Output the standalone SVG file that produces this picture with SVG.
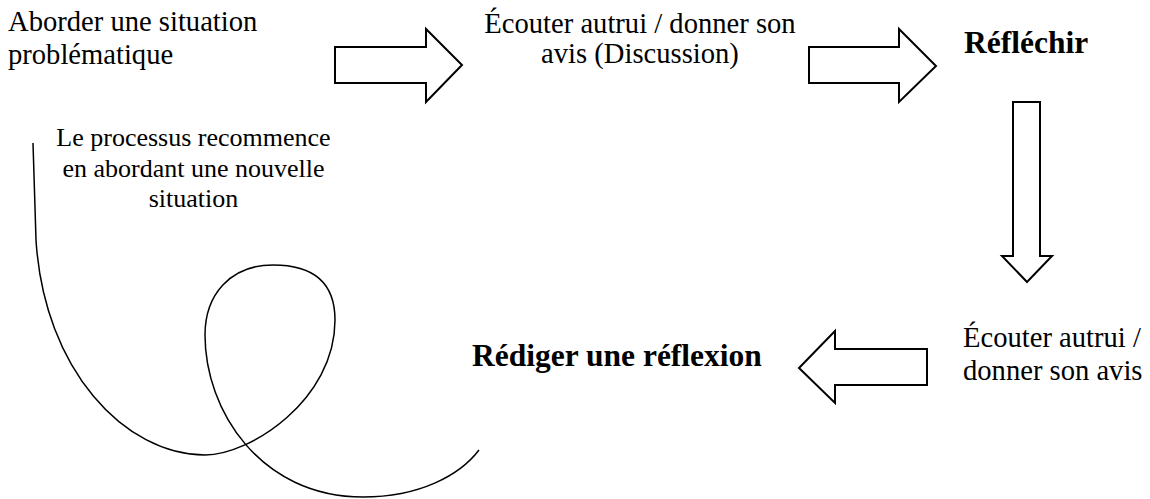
<svg xmlns="http://www.w3.org/2000/svg" width="1150" height="499" viewBox="0 0 1150 499">
<style>
.t{font-family:"Liberation Serif","Times New Roman",serif;font-size:28.6px;fill:#000}
.s{font-family:"Liberation Serif","Times New Roman",serif;font-size:26px;fill:#000}
.b{font-family:"Liberation Serif","Times New Roman",serif;font-size:31.5px;font-weight:bold;fill:#000}
.arr{fill:#fff;stroke:#000;stroke-width:2;stroke-linejoin:miter}
.crv{fill:none;stroke:#000;stroke-width:1.5}
</style>
<rect width="1150" height="499" fill="#fff"/>
<g id="n1"><text class="t" x="8" y="31">Aborder une situation</text><text class="t" x="8" y="64">problématique</text></g>
<g id="n2"><text class="t" x="640" y="33" text-anchor="middle">Écouter autrui / donner son</text><text class="t" x="640" y="63" text-anchor="middle">avis (Discussion)</text></g>
<g id="n3"><text class="b" x="964" y="53">Réfléchir</text></g>
<g id="n4"><text class="t" x="963" y="347">Écouter autrui /</text><text class="t" x="963" y="380">donner son avis</text></g>
<g id="n5"><text class="b" x="472" y="366">Rédiger une réflexion</text></g>
<g id="n6"><text class="s" x="193.5" y="146" text-anchor="middle">Le processus recommence</text><text class="s" x="193.5" y="177" text-anchor="middle">en abordant une nouvelle</text><text class="s" x="193.5" y="207" text-anchor="middle">situation</text></g>
<g id="connectors">
<polygon class="arr" points="335,47 426,47 426,29 462,65 426,102 426,83 335,83"/>
<polygon class="arr" points="809,47 899,47 899,29 936,66 899,102 899,83 809,83"/>
<polygon class="arr" points="1013,102 1040,102 1040,256 1052,256 1027,282 1002,256 1013,256"/>
<polygon class="arr" points="927,349 835,349 835,331 799,368 835,403 835,385 927,385"/>
<path class="crv" d="M33,143 L36,240 C44,370 125,455 205,455 C250,455 335,400 335,320 C335,280 310,265 273,265 C230,265 205,295 205,335 C205,410 260,497 363,497 C420,497 460,475 479,450"/>
</g>
</svg>
